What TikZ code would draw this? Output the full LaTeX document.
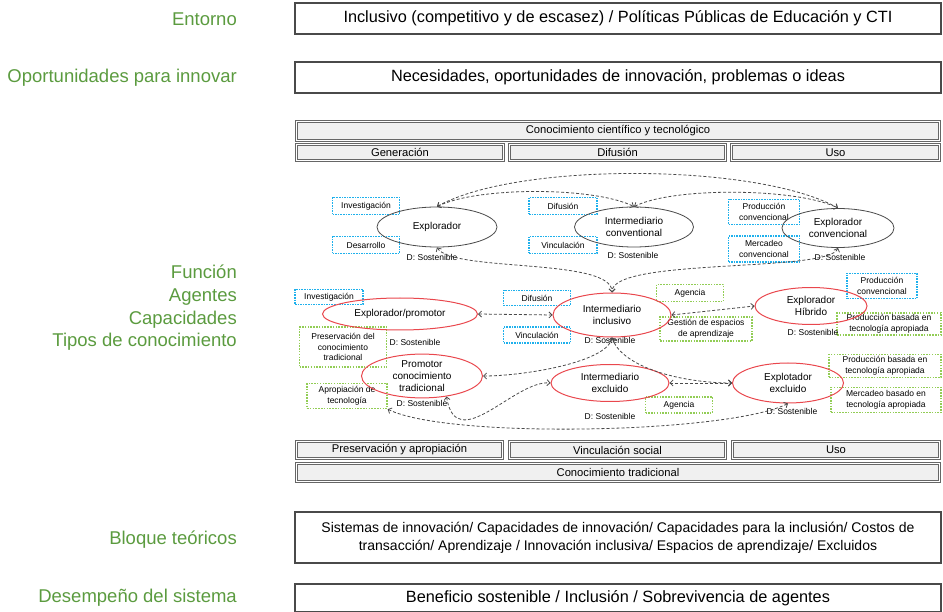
\documentclass[tikz,border=0pt]{standalone}
\usepackage{fontspec}
\setmainfont{Liberation Sans}
\usetikzlibrary{arrows.meta, positioning, shapes.geometric}
\definecolor{verdetit}{HTML}{5B9B3F}
\definecolor{celeste}{HTML}{1EB0EC}
\definecolor{pasto}{HTML}{92CD55}
\definecolor{rojizo}{HTML}{E9474D}
\definecolor{barra}{HTML}{F0F0F0}
\definecolor{borde}{HTML}{4A4A4A}
\tikzset{
  rotulo/.style={anchor=east, align=right, inner sep=0pt, text=verdetit, font=\fontsize{18.5}{22.7}\selectfont},
  marco/.style={draw=borde, line width=1.2pt, minimum width=646pt, align=center, font=\fontsize{16.3}{18}\selectfont},
  franja/.style={draw=black!60, double=white, double distance=1pt, fill=barra, line width=1pt, inner sep=0pt, font=\fontsize{11.2}{13}\selectfont},
  agente/.style={ellipse, draw=borde, line width=0.8pt, inner sep=0pt, align=center, font=\fontsize{10}{12}\selectfont},
  inclusivo/.style={agente, draw=rojizo, line width=1pt},
  capaz/.style={draw=celeste, line width=1.6pt, dash pattern=on 1.6pt off 1pt, inner sep=0pt, align=center, font=\fontsize{8.5}{10.5}\selectfont},
  saber/.style={capaz, draw=pasto, line width=1.3pt, dash pattern=on 1.5pt off 1.3pt},
  sost/.style={inner sep=0pt, font=\fontsize{8.5}{10}\selectfont},
  flujo/.style={<->, >={Straight Barb[length=3pt,width=6pt]}, draw=borde, line width=0.8pt, dash pattern=on 3pt off 2pt},
}
\begin{document}
\begin{tikzpicture}[x=1pt, y=-1pt]
  \useasboundingbox (0,0) rectangle (943,612);
  % Rotulos de la izquierda
  \node[rotulo] (tent) at (237,19) {Entorno};
  \node[rotulo] (topo) at (237,78) {Oportunidades para innovar};
  \node[rotulo] (tfun) at (237,308) {Función\\Agentes\\Capacidades\\Tipos de conocimiento};
  \node[rotulo] (tblo) at (237,540) {Bloque teóricos};
  \node[rotulo] (tdes) at (237,598) {Desempeño del sistema};
  % Cajas de texto
  \node[marco, minimum height=31pt] (ent) at (618,18.5) {Inclusivo (competitivo y de escasez) / Políticas Públicas de Educación y CTI};
  \node[marco, minimum height=31pt] (opo) at (618,77.5) {Necesidades, oportunidades de innovación, problemas o ideas};
  \node[marco, minimum height=51pt, font=\fontsize{14}{18}\selectfont] (blo) at (618,537.5) {Sistemas de innovación/ Capacidades de innovación/ Capacidades para la inclusión/ Costos de\\transacción/ Aprendizaje / Innovación inclusiva/ Espacios de aprendizaje/ Excluidos};
  \node[marco, minimum height=28pt] (des) at (618,598) {Beneficio sostenible / Inclusión / Sobrevivencia de agentes};
  % Franjas de conocimiento
  \node[franja, minimum width=643pt, minimum height=19pt] (cyt) at (618,131) {Conocimiento científico y tecnológico};
  \foreach \n/\x/\w/\t in {gen/400/207/Generación, dif/617.5/216/Difusión, usoa/835.5/208/Uso}
    \node[franja, minimum width=\w pt, minimum height=16pt] (\n) at (\x,152.5) {\t};
  \foreach \n/\x/\w/\t in {pya/399.5/206/Preservación y apropiación, vso/617.5/216/Vinculación social, usob/836/207/Uso}
    \node[franja, minimum width=\w pt, minimum height=17pt] (\n) at (\x,450) {\t};
  \node[franja, minimum width=643pt, minimum height=18pt] (ctr) at (618,472.5) {Conocimiento tradicional};
  % Capacidades
  \node[capaz, minimum width=67pt, minimum height=17pt] (inva) at (366,206) {Investigación};
  \node[capaz, minimum width=67pt, minimum height=17pt] (desa) at (366,245) {Desarrollo};
  \node[capaz, minimum width=68pt, minimum height=17pt] (difa) at (563,206) {Difusión};
  \node[capaz, minimum width=68pt, minimum height=17pt] (vina) at (563,245) {Vinculación};
  \node[capaz, minimum width=71pt, minimum height=25pt] (proa) at (764,212) {Producción\\convencional};
  \node[capaz, minimum width=71pt, minimum height=26pt] (mera) at (764,249) {Mercadeo\\convencional};
  \node[capaz, minimum width=68pt, minimum height=15pt] (invb) at (329,297) {Investigación};
  \node[capaz, minimum width=67pt, minimum height=15pt] (difb) at (537,298) {Difusión};
  \node[capaz, minimum width=67pt, minimum height=16pt] (vinb) at (537,335) {Vinculación};
  \node[capaz, minimum width=70pt, minimum height=25pt] (prob) at (882,286) {Producción\\convencional};
  \node[saber, minimum width=67pt, minimum height=17pt] (agea) at (690,293) {Agencia};
  \node[saber, minimum width=92pt, minimum height=24pt] (ges) at (706,329) {Gestión de espacios\\de aprendizaje};
  \node[saber, minimum width=104pt, minimum height=22pt] (pbaa) at (889,324) {Producción basada en\\tecnología apropiada};
  \node[saber, minimum width=112pt, minimum height=23pt] (pbab) at (885,366) {Producción basada en\\tecnología apropiada};
  \node[saber, minimum width=110pt, minimum height=25pt] (mba) at (886,400) {Mercadeo basado en\\tecnología apropiada};
  \node[saber, minimum width=67pt, minimum height=16pt] (ageb) at (679,405) {Agencia};
  \node[saber, minimum width=87pt, minimum height=40pt] (pre) at (343,347) {Preservación del\\conocimiento\\tradicional};
  \node[saber, minimum width=80pt, minimum height=25pt] (apro) at (347,396) {Apropiación de\\tecnología};
  % Agentes
  \node[agente, minimum width=120pt, minimum height=40pt] (expl) at (437,227) {Explorador};
  \node[agente, minimum width=119pt, minimum height=40pt] (intc) at (634,227) {Intermediario\\conventional};
  \node[agente, minimum width=112pt, minimum height=39pt] (explc) at (838,228) {Explorador\\convencional};
  \node[inclusivo, minimum width=155pt, minimum height=32pt] (promo) at (400,314) {Explorador/promotor};
  \node[inclusivo, minimum width=118pt, minimum height=44pt] (inclu) at (612,315) {Intermediario\\inclusivo};
  \node[inclusivo, minimum width=112pt, minimum height=37pt] (hibr) at (811,306) {Explorador\\Híbrido};
  \node[inclusivo, minimum width=121pt, minimum height=43pt] (trad) at (422,376) {Promotor\\conocimiento\\tradicional};
  \node[inclusivo, minimum width=118pt, minimum height=37pt] (inex) at (610,383) {Intermediario\\excluido};
  \node[inclusivo, minimum width=111pt, minimum height=40pt] (explo) at (788,383) {Explotador\\excluido};
  \foreach \i/\x/\y in {1/432/257, 2/633/255, 3/840/257, 4/415/342, 5/610/340, 6/813/332, 7/422/403, 8/610/416, 9/792/411}
    \node[sost] (sost\i) at (\x,\y) {D: Sostenible};
  % Flujos entre agentes
  \draw[flujo] (expl.north) .. controls +(80,-45) and +(-80,-45) .. (explc.north);
  \draw[flujo] (expl.north) .. controls +(40,-20) and +(-40,-20) .. (intc.north);
  \draw[flujo] (intc.north) .. controls +(40,-20) and +(-40,-20) .. (explc.north);
  \draw[flujo] (expl.south) .. controls +(15,25) and +(0,-35) .. (inclu.north);
  \draw[flujo] (explc.south) .. controls +(-10,25) and +(0,-35) .. (inclu.north);
  \draw[flujo] (promo.east) -- (inclu.west);
  \draw[flujo] (inclu.east) -- (hibr.west);
  \draw[flujo] (inclu.south) .. controls +(-5,25) and +(40,0) .. (trad.east);
  \draw[flujo] (inclu.south) .. controls +(10,30) and +(-50,0) .. (explo.west);
  \draw[flujo] (trad.-40) .. controls +(10,60) and +(-36,-3) .. (inex.west);
  \draw[flujo] (inex.east) -- (explo.west);
  \draw[flujo] (apro.south east) .. controls +(60,30) and +(-60,30) .. (explo.south);
\end{tikzpicture}
\end{document}
